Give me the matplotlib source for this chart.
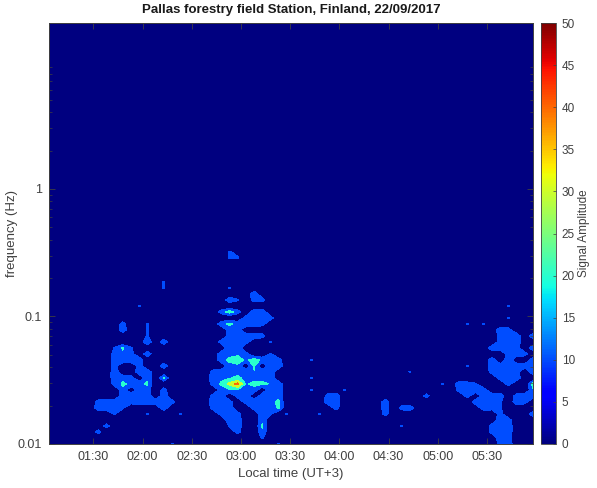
import numpy as np
import matplotlib
matplotlib.use("Agg")
import matplotlib.pyplot as plt
from matplotlib.ticker import FixedLocator, FixedFormatter, NullFormatter, LogLocator

plt.rcParams['font.family'] = ['Liberation Sans', 'DejaVu Sans']

TITLE = "Pallas forestry field Station, Finland, 22/09/2017"
TICK_MINUTES = [90, 120, 150, 180, 210, 240, 270, 300, 330]
TICK_LABELS = ["01:30", "02:00", "02:30", "03:00", "03:30", "04:00", "04:30", "05:00", "05:30"]
CODE_VALUES = {'.': 0, '1': 6, 'a': 11.5, 'b': 15, 'c': 18, 'd': 19.5, 'e': 21.5, 'f': 25, 'g': 29, 'h': 33, 'i': 38, 'j': 44}
LEVELS = [0, 10, 20, 30, 40, 50]

# signal amplitude: one string per frequency row (low to high),
# one character per 5-minute time column, spaces only for readability
AMPLITUDE_ROWS = [
    ".......... .....a.... ........a. .......... .......... .....bc...",
    ".......... .......... ......a... .......... .......... .....cb...",
    "......b... .......... ...b..c... .......... .......... ....bcc...",
    ".......b.. .......... ..ac..e... .......... ...a...... ....bcc...",
    ".......... .......... ..cc..c... .......... .......... .....db...",
    "........a. ..a...a... .bcb..ca.a ...a...... .b........ .....b...c",
    "......ccca ....c..... bcc..bcbe. .....b.... .c.bc..... ...cba....",
    "......bccd bcccdb.... ccb.bccce. ....cc.... .c........ ..ccca.cb.",
    ".........b ccc.c..... bb.bc.ccc. ....bc.... ......b... .b.bcc.bcb",
    ".........c .cb.b..... .bddcc.dc. ..a...a... .......... bccb.....c",
    "........be cce....... behjdeedc. .......... ........a. cba...b..f",
    "........cc b.c.e..... ccdecccc.. ..a....... .......... .....bcc..",
    "........c. .cc....... bcbccdcc.. .......... ....a..... ....bccb.c",
    "........b. .b..c..... ..cc.e.cc. .......... .......... .a..cbccbc",
    "........cc cc........ .cefcfccb. ..a....... .......... ....c.c..c",
    "........bc b.c....... .cccb..a.. .......... .......... ......bcb.",
    "........ae a......... ..cc...... .......... .......... ....cccb.c",
    ".......... ..d.c..... .bcdb..a.. .......... .......... .....bcc..",
    ".......... ..a....... ..bcccb... .......... .......... .....bcc.c",
    ".........c ..a....... ..bb...... .......... .......... .....cb...",
    ".........b ..a....... .cecccb... .......... .......... .a.a......",
    ".......... .......... ....bbbb.. .......... .......... ......a...",
    ".......... .......... .bfb.cc... .......... .......... ..........",
    ".......... .a........ .......... .......... .......... ......a...",
    ".......... .......... ..ca.bb... .......... .......... ..........",
    ".......... .......... .....c.... .......... .......... ..........",
    ".......... ....a..... ..a....... .......... .......... ..........",
    ".......... ....a..... .......... .......... .......... ..........",
    ".......... .......... .......... .......... .......... ..........",
    ".......... .......... .......... .......... .......... ..........",
    ".......... .......... .......... .......... .......... ..........",
    ".......... .......... ..aa...... .......... .......... ..........",
    ".......... .......... ..a1...... .......... .......... ..........",
    ".......... .......... .......... .......... .......... ..........",
    ".......... .......... .......... .......... .......... ..........",
]

Z = np.array([[CODE_VALUES[ch] for ch in row.replace(" ", "")] for row in AMPLITUDE_ROWS], dtype=float)
minutes = 63 + 5 * np.arange(Z.shape[1])
freq = 0.01 * 10 ** (np.arange(Z.shape[0]) * 6 / 127.5)
freq[-1] = 20.0

W, H = 597, 488
fig = plt.figure(figsize=(W / 100, H / 100), dpi=100, facecolor='white')
ax = fig.add_axes([49 / W, 1 - 444 / H, 484 / W, 421 / H])

jet = plt.get_cmap('jet')
colors = [jet(l / 50) for l in LEVELS[:-1]]
ax.contourf(minutes, freq, Z, levels=LEVELS, colors=colors, extend='neither')
ax.set_facecolor(jet(0.0))
ax.set_yscale('log')
ax.set_xlim(minutes[0], minutes[-1])
ax.set_ylim(0.01, 20)

GREY = '#404040'
ax.xaxis.set_major_locator(FixedLocator(TICK_MINUTES))
ax.xaxis.set_major_formatter(FixedFormatter(TICK_LABELS))
ax.yaxis.set_major_locator(FixedLocator([0.01, 0.1, 1]))
ax.yaxis.set_major_formatter(FixedFormatter(["0.01", "0.1", "1"]))
ax.yaxis.set_minor_locator(LogLocator(base=10, subs=np.arange(2, 10) * 0.1 * 10, numticks=12))
ax.yaxis.set_minor_formatter(NullFormatter())
ax.tick_params(axis='both', which='major', direction='in', length=4, width=0.6, color=GREY,
               labelcolor=GREY, labelsize=9, top=True, right=True, pad=5)
ax.tick_params(axis='y', which='minor', direction='in', length=2, width=0.5, color=GREY, right=True)
for s in ax.spines.values():
    s.set_color(GREY)
    s.set_linewidth(0.7)
ax.set_xlabel("Local time (UT+3)", fontsize=9.5, color=GREY, labelpad=4)
ax.set_ylabel("frequency (Hz)", fontsize=9.5, color=GREY, labelpad=0)
ax.set_title(TITLE, fontsize=9.5, fontweight='bold', color='#1a1a1a', pad=7)

cax = fig.add_axes([541 / W, 1 - 444 / H, 15 / W, 421 / H])
sm = plt.cm.ScalarMappable(norm=plt.Normalize(0, 50), cmap=jet)
cb = fig.colorbar(sm, cax=cax)
cb.set_ticks(list(range(0, 51, 5)))
cb.ax.tick_params(labelsize=8.5, labelcolor=GREY, color=GREY, length=2, width=0.5, direction='in', pad=4)
cb.set_label("Signal Amplitude", fontsize=8.5, color=GREY, labelpad=2)
cb.outline.set_edgecolor(GREY)
cb.outline.set_linewidth(0.6)

fig.savefig("out.png", dpi=100)
